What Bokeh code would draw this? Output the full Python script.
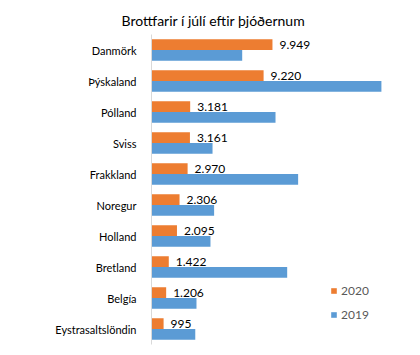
from bokeh.plotting import figure
from bokeh.models import ColumnDataSource, FactorRange, Range1d, Title, Legend, LegendItem
from bokeh.transform import dodge
from bokeh.core.properties import value
from bokeh.embed import file_html
from bokeh.resources import INLINE

countries = ["Danmörk", "Þýskaland", "Pólland", "Sviss", "Frakkland",
             "Noregur", "Holland", "Bretland", "Belgía", "Eystrasaltslöndin"]
v2020 = [9949, 9220, 3181, 3161, 2970, 2306, 2095, 1422, 1206, 995]
v2019 = [7460, 18910, 10200, 5020, 12060, 5150, 4850, 11160, 3700, 3600]
labels2020 = [f"{v:,}".replace(",", ".") for v in v2020]

FONT = "Lato"
ORANGE = "#ED7D31"
BLUE = "#5B9BD5"

source = ColumnDataSource(dict(country=countries, v2020=v2020, v2019=v2019, lbl=labels2020))

p = figure(width=420, height=355, output_backend="svg", toolbar_location=None,
           y_range=FactorRange(factors=list(reversed(countries))),
           x_range=Range1d(0, 20480),
           min_border_left=151, min_border_right=20, min_border_top=34, min_border_bottom=11)

p.title = Title(text="Brottfarir í júlí eftir þjóðernum", align="left", offset=-30,
                vertical_align="middle", standoff=10,
                text_font=FONT, text_font_size="14px", text_font_style="normal",
                text_color="#000000")

r20 = p.hbar(y=dodge("country", 0.172, range=p.y_range), right="v2020", left=0, height=0.345,
             color=ORANGE, line_color=None, source=source)
r19 = p.hbar(y=dodge("country", -0.172, range=p.y_range), right="v2019", left=0, height=0.345,
             color=BLUE, line_color=None, source=source)

p.text(x="v2020", y=dodge("country", 0.172, range=p.y_range), text="lbl", source=source,
       x_offset=7, text_baseline="middle", text_align="left",
       text_font=value(FONT), text_font_size="12px", text_color="#000000")

p.xaxis.visible = False
p.xgrid.visible = False
p.ygrid.visible = False
p.outline_line_color = None

ya = p.yaxis[0]
ya.axis_line_color = "#D9D9D9"
ya.axis_line_width = 1
ya.major_tick_line_color = None
ya.minor_tick_line_color = None
ya.major_label_standoff = 9
ya.major_label_text_font = FONT
ya.major_label_text_font_size = "11px"
ya.major_label_text_color = "#000000"

legend = Legend(items=[LegendItem(label="2020", renderers=[r20]),
                       LegendItem(label="2019", renderers=[r19])],
                location=(179, 22), orientation="vertical",
                border_line_color=None, background_fill_alpha=0,
                padding=0, margin=0, spacing=9,
                glyph_width=7, glyph_height=7, label_height=12, label_standoff=4,
                label_text_font=FONT, label_text_font_size="12px", label_text_color="#595959")
p.add_layout(legend)

open("out.html", "w").write(file_html(p, INLINE))
